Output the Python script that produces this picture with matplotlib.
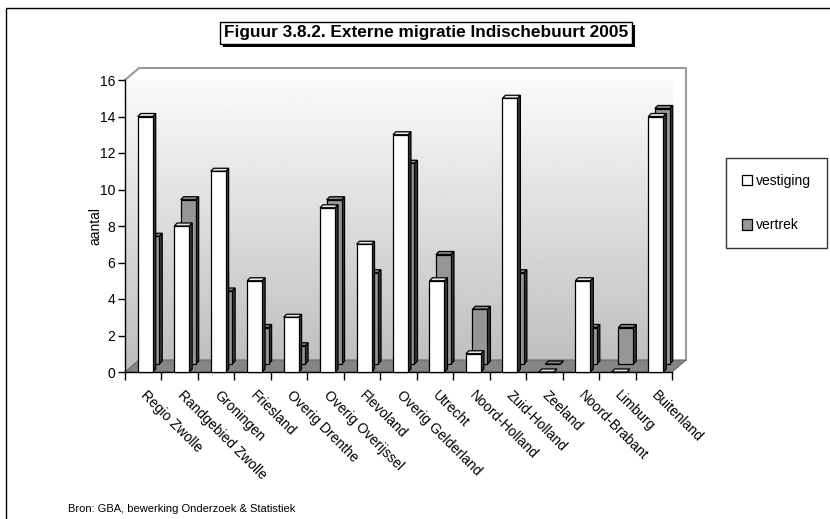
import numpy as np
import matplotlib
matplotlib.use("Agg")
import matplotlib.pyplot as plt
from matplotlib.patches import Polygon, Rectangle, Patch
import matplotlib.patheffects as pe

plt.rcParams['font.family'] = ['Liberation Sans', 'DejaVu Sans']

categories = ["Regio Zwolle", "Randgebied Zwolle", "Groningen", "Friesland",
              "Overig Drenthe", "Overig Overijssel", "Flevoland", "Overig Gelderland",
              "Utrecht", "Noord-Holland", "Zuid-Holland", "Zeeland", "Noord-Brabant",
              "Limburg", "Buitenland"]
vestiging = [14, 8, 11, 5, 3, 9, 7, 13, 5, 1, 15, 0, 5, 0, 14]
vertrek = [7, 9, 4, 2, 1, 9, 5, 11, 6, 3, 5, 0, 2, 2, 14]
yticks = [0, 2, 4, 6, 8, 10, 12, 14, 16]
title = "Figuur 3.8.2. Externe migratie Indischebuurt 2005"
source = "Bron: GBA, bewerking Onderzoek & Statistiek"

W, H = 830, 519
fig = plt.figure(figsize=(W / 100, H / 100), dpi=100)

# outer border
fig.add_artist(Rectangle((6 / W, -0.1), 1.2, 1 - 8 / H + 0.1, transform=fig.transFigure,
                         fill=False, ec='black', lw=1.0))

L, R, T, B = 125, 672, 80, 372
ax = fig.add_axes([L / W, 1 - B / H, (R - L) / W, (B - T) / H])
n = len(categories)
ax.set_xlim(0, n)
ax.set_ylim(0, 16)
ax.patch.set_visible(False)

pxx = n / (R - L)      # data units per pixel (x)
pxy = 16 / (B - T)     # data units per pixel (y)
DX, DY = 14 * pxx, 12 * pxy   # depth of the floor
EX, EY = 3 * pxx, 3 * pxy     # bar extrusion
OX, OY = 6.5 * pxx, 8 * pxy   # offset of the back series

# back wall + side wall with gradient
wall = Polygon([(0, 0), (DX, DY), (n + DX, DY), (n + DX, 16 + DY), (DX, 16 + DY), (0, 16)],
               closed=True, transform=ax.transData, fc='none', ec='none')
ax.add_patch(wall)
grad = np.linspace(0.74, 0.99, 256)[:, None]
im = ax.imshow(grad, extent=(0, n + DX, 0, 16 + DY), origin='lower', cmap='gray',
               vmin=0, vmax=1, aspect='auto', zorder=0, interpolation='bilinear')
im.set_clip_path(wall)
im.set_clip_box(None)
# wall edges
ax.plot([0, DX, n + DX, n + DX], [16, 16 + DY, 16 + DY, DY], color='#9a9a9a', lw=1.5,
        clip_on=False, zorder=0.6)
# floor
floor = Polygon([(0, 0), (n, 0), (n + DX, DY), (DX, DY)], closed=True, fc='#858585',
                ec='#6a6a6a', lw=0.8, clip_on=False, zorder=0.7)
ax.add_patch(floor)


def draw_bars(values, x0, y0, front, top, side, z):
    width = 0.41
    lefts = np.arange(n) + x0
    ax.bar(lefts, values, width=width, bottom=y0, align='edge', color=front,
           edgecolor='black', lw=0.9, zorder=z + 0.2, clip_on=False)
    for xl, v in zip(lefts, values):
        xr = xl + width
        ax.add_patch(Polygon([(xr, y0), (xr + EX, y0 + EY), (xr + EX, y0 + v + EY), (xr, y0 + v)],
                             closed=True, fc=side, ec='black', lw=0.9, zorder=z, clip_on=False))
        ax.add_patch(Polygon([(xl, y0 + v), (xl + EX, y0 + v + EY), (xr + EX, y0 + v + EY), (xr, y0 + v)],
                             closed=True, fc=top, ec='black', lw=0.9, zorder=z + 0.1, clip_on=False))


draw_bars(vertrek, 0.35 + OX, OY, '#969696', '#8a8a8a', '#3a3a3a', 3)
draw_bars(vestiging, 0.35, 0, 'white', '#e6e6e6', '#3a3a3a', 4)

for s in ['top', 'right']:
    ax.spines[s].set_visible(False)
for s in ['left', 'bottom']:
    ax.spines[s].set_linewidth(1.0)
    ax.spines[s].set_zorder(2)

ax.set_yticks(yticks)
ax.set_yticklabels([str(v) for v in yticks], fontsize=10)
ax.tick_params(axis='y', direction='out', length=5, width=1, pad=2)
ax.set_xticks(np.arange(n) + 0.5)
ax.set_xticklabels(categories, rotation=-45, ha='left', va='center',
                   rotation_mode='anchor', fontsize=10)
ax.set_xticks(np.arange(n + 1), minor=True)
ax.tick_params(axis='x', which='major', length=0, pad=15)
ax.tick_params(axis='x', which='minor', direction='out', length=6, width=1)
ax.set_ylabel('aantal', fontsize=10)
ax.yaxis.set_label_coords(-0.042, 0.5)

handles = [Patch(fc='white', ec='black', lw=0.9), Patch(fc='#969696', ec='black', lw=0.9)]
leg = fig.legend(handles, ['vestiging', 'vertrek'], loc='center',
                 bbox_to_anchor=(776.5 / W, 1 - 203 / H), frameon=True, fancybox=False,
                 edgecolor='black', handlelength=0.75, handleheight=0.75, handletextpad=0.3,
                 labelspacing=2.2, borderpad=1.1, fontsize=10)
leg.get_frame().set_linewidth(1.0)

t = fig.text(426 / W, 1 - 33 / H, title, ha='center', va='center', fontsize=12.4,
             fontweight='bold',
             bbox=dict(boxstyle='square,pad=0.2', fc='white', ec='black', lw=1.0))
t.get_bbox_patch().set_path_effects([pe.SimplePatchShadow(offset=(2.2, -2.2),
                                                          shadow_rgbFace='black', alpha=1.0),
                                     pe.Normal()])

fig.text(68 / W, 1 - 509 / H, source, ha='left', va='center', fontsize=8)

fig.savefig('out.png', dpi=100)
